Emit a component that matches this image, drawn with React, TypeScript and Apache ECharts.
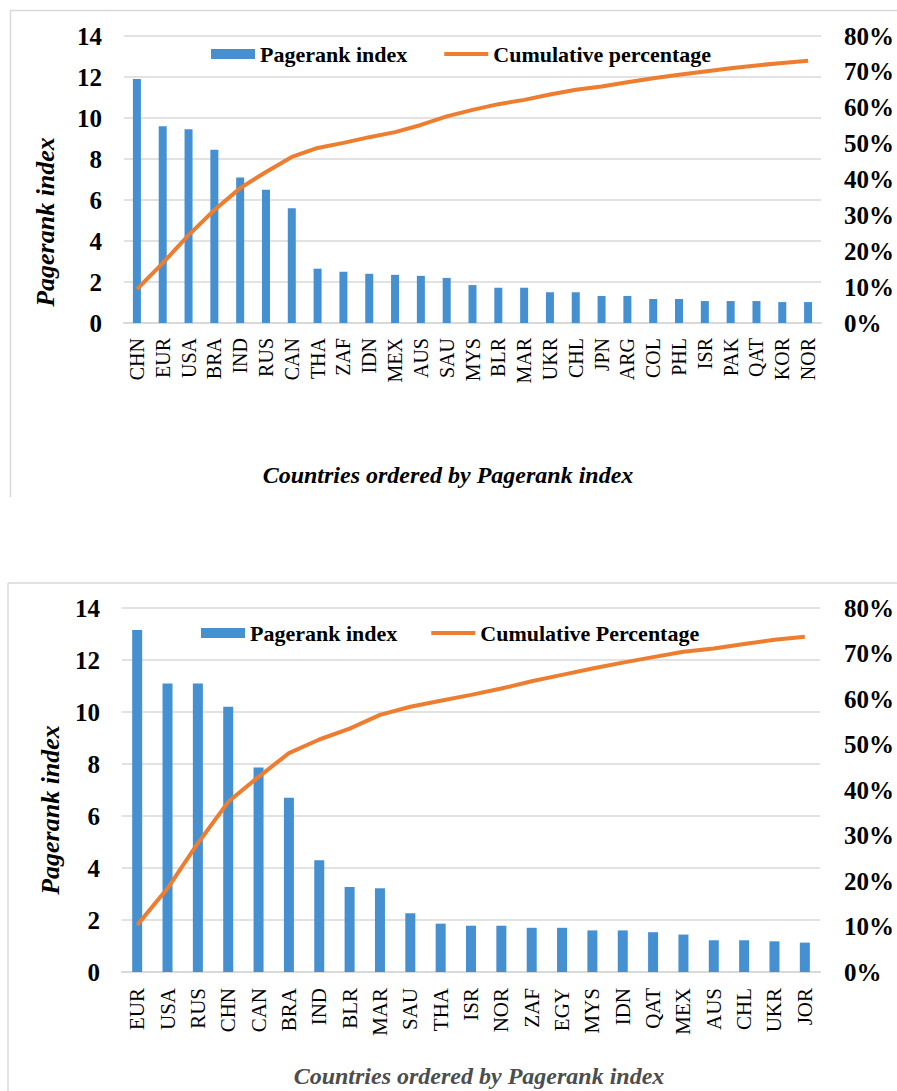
import React, { useEffect, useRef } from "react";
import * as echarts from "echarts";

const topCategories = ["CHN", "EUR", "USA", "BRA", "IND", "RUS", "CAN", "THA", "ZAF", "IDN", "MEX", "AUS", "SAU", "MYS", "BLR", "MAR", "UKR", "CHL", "JPN", "ARG", "COL", "PHL", "ISR", "PAK", "QAT", "KOR", "NOR"];
const topPagerank = [11.9, 9.6, 9.45, 8.45, 7.1, 6.5, 5.6, 2.65, 2.5, 2.4, 2.35, 2.3, 2.2, 1.85, 1.72, 1.72, 1.5, 1.5, 1.32, 1.32, 1.17, 1.17, 1.07, 1.07, 1.07, 1.02, 1.02];
const topCumulative = [9.4, 16.7, 24.5, 31.5, 37.6, 42.1, 46.3, 48.8, 50.2, 51.8, 53.2, 55.2, 57.6, 59.4, 61.0, 62.2, 63.7, 65.0, 65.9, 67.1, 68.2, 69.2, 70.1, 71.0, 71.8, 72.5, 73.1];

const bottomCategories = ["EUR", "USA", "RUS", "CHN", "CAN", "BRA", "IND", "BLR", "MAR", "SAU", "THA", "ISR", "NOR", "ZAF", "EGY", "MYS", "IDN", "QAT", "MEX", "AUS", "CHL", "UKR", "JOR"];
const bottomPagerank = [13.15, 11.1, 11.1, 10.2, 7.87, 6.7, 4.3, 3.27, 3.22, 2.26, 1.86, 1.78, 1.78, 1.7, 1.7, 1.6, 1.6, 1.53, 1.44, 1.22, 1.22, 1.18, 1.13];
const bottomCumulative = [10.3, 18.4, 28.3, 37.4, 42.9, 48.1, 51.1, 53.5, 56.5, 58.3, 59.6, 60.9, 62.3, 63.9, 65.3, 66.7, 68.0, 69.2, 70.4, 71.1, 72.1, 73.0, 73.7];

const leftTicks = { min: 0, max: 14, interval: 2 };
const rightTicks = { min: 0, max: 80, interval: 10 };

const SERIF = '"Liberation Serif", "Times New Roman", serif';
const BLUE = "#4590D0";
const ORANGE = "#EE7D2F";
const GRID = "#D9D9D9";

export default function App() {
  const ref = useRef<HTMLDivElement>(null);
  useEffect(() => {
    if (!ref.current) return;
    const chart = echarts.init(ref.current, null, { renderer: "svg" });

    const yLeft = (gridIndex: number, size: number, margin: number) => ({
      type: "value",
      gridIndex,
      ...leftTicks,
      axisLine: { show: false },
      axisTick: { show: false },
      splitLine: { show: true, lineStyle: { color: GRID, width: 1.5 } },
      axisLabel: { fontFamily: SERIF, fontWeight: "bold", fontSize: size, color: "#000", margin },
    });
    const yRight = (gridIndex: number, size: number, margin: number) => ({
      type: "value",
      gridIndex,
      ...rightTicks,
      position: "right",
      axisLine: { show: false },
      axisTick: { show: false },
      splitLine: { show: false },
      axisLabel: { fontFamily: SERIF, fontWeight: "bold", fontSize: size, color: "#000", margin, formatter: "{value}%" },
    });
    const xCat = (gridIndex: number, data: string[], size: number, margin: number) => ({
      type: "category",
      gridIndex,
      data,
      axisLine: { show: true, lineStyle: { color: GRID, width: 2 } },
      axisTick: { show: false },
      axisLabel: { rotate: 90, interval: 0, fontFamily: SERIF, fontSize: size, color: "#000", margin },
    });

    const lineLegendItem = (name: string) => ({
      name,
      itemStyle: { opacity: 0 },
      lineStyle: { color: ORANGE, width: 4, opacity: 1 },
    });

    const option = {
      animation: false,
      backgroundColor: "#fff",
      grid: [
        { left: 124, right: 75, top: 36, height: 287 },
        { left: 122, right: 74, top: 608, height: 364 },
      ],
      xAxis: [xCat(0, topCategories, 20, 15), xCat(1, bottomCategories, 21, 16)],
      yAxis: [yLeft(0, 25, 22), yRight(0, 25, 23), yLeft(1, 25, 22), yRight(1, 25, 24)],
      legend: [
        {
          left: 206,
          top: 38,
          itemWidth: 44,
          itemHeight: 10,
          itemGap: 35,
          textStyle: { fontFamily: SERIF, fontWeight: "bold", fontSize: 22, color: "#000" },
          data: [{ name: "Pagerank index", icon: "rect" }, lineLegendItem("Cumulative percentage")],
        },
        {
          left: 196,
          top: 617,
          itemWidth: 44,
          itemHeight: 10,
          itemGap: 32,
          textStyle: { fontFamily: SERIF, fontWeight: "bold", fontSize: 22, color: "#000" },
          data: [{ name: "Pagerank index", icon: "rect" }, lineLegendItem("Cumulative Percentage")],
        },
      ],
      series: [
        {
          name: "Pagerank index",
          type: "bar",
          xAxisIndex: 0,
          yAxisIndex: 0,
          barWidth: 8,
          itemStyle: { color: BLUE },
          data: topPagerank,
        },
        {
          name: "Cumulative percentage",
          type: "line",
          xAxisIndex: 0,
          yAxisIndex: 1,
          showSymbol: false,
          symbol: "none",
          lineStyle: { color: ORANGE, width: 4 },
          itemStyle: { color: ORANGE },
          data: topCumulative,
        },
        {
          name: "Pagerank index",
          type: "bar",
          xAxisIndex: 1,
          yAxisIndex: 2,
          barWidth: 10,
          itemStyle: { color: BLUE },
          data: bottomPagerank,
        },
        {
          name: "Cumulative Percentage",
          type: "line",
          xAxisIndex: 1,
          yAxisIndex: 3,
          showSymbol: false,
          symbol: "none",
          lineStyle: { color: ORANGE, width: 4 },
          itemStyle: { color: ORANGE },
          data: bottomCumulative,
        },
      ],
      graphic: [
        { type: "line", shape: { x1: 10.5, y1: 10.5, x2: 897, y2: 10.5 }, style: { stroke: GRID, lineWidth: 1.5 } },
        { type: "line", shape: { x1: 10.5, y1: 10.5, x2: 10.5, y2: 497 }, style: { stroke: GRID, lineWidth: 1.5 } },
        { type: "line", shape: { x1: 8, y1: 583, x2: 897, y2: 583 }, style: { stroke: GRID, lineWidth: 1.5 } },
        { type: "line", shape: { x1: 8, y1: 583, x2: 8, y2: 1091 }, style: { stroke: GRID, lineWidth: 1.5 } },
        {
          type: "text",
          x: 45,
          y: 222,
          rotation: Math.PI / 2,
          style: { text: "Pagerank index", font: `italic bold 26px ${SERIF}`, fill: "#000", textAlign: "center", textVerticalAlign: "middle" },
        },
        {
          type: "text",
          x: 448,
          y: 475,
          style: { text: "Countries ordered by Pagerank index", font: `italic bold 24px ${SERIF}`, fill: "#000", textAlign: "center", textVerticalAlign: "middle" },
        },
        {
          type: "text",
          x: 50,
          y: 810,
          rotation: Math.PI / 2,
          style: { text: "Pagerank index", font: `italic bold 26px ${SERIF}`, fill: "#000", textAlign: "center", textVerticalAlign: "middle" },
        },
        {
          type: "text",
          x: 479,
          y: 1076,
          style: { text: "Countries ordered by Pagerank index", font: `italic bold 24px ${SERIF}`, fill: "#4d4d4d", textAlign: "center", textVerticalAlign: "middle" },
        },
      ],
    };
    chart.setOption(option as any);
    return () => chart.dispose();
  }, []);
  return <div ref={ref} style={{ position: "absolute", left: 0, top: 0, width: 897, height: 1091 }} />;
}
